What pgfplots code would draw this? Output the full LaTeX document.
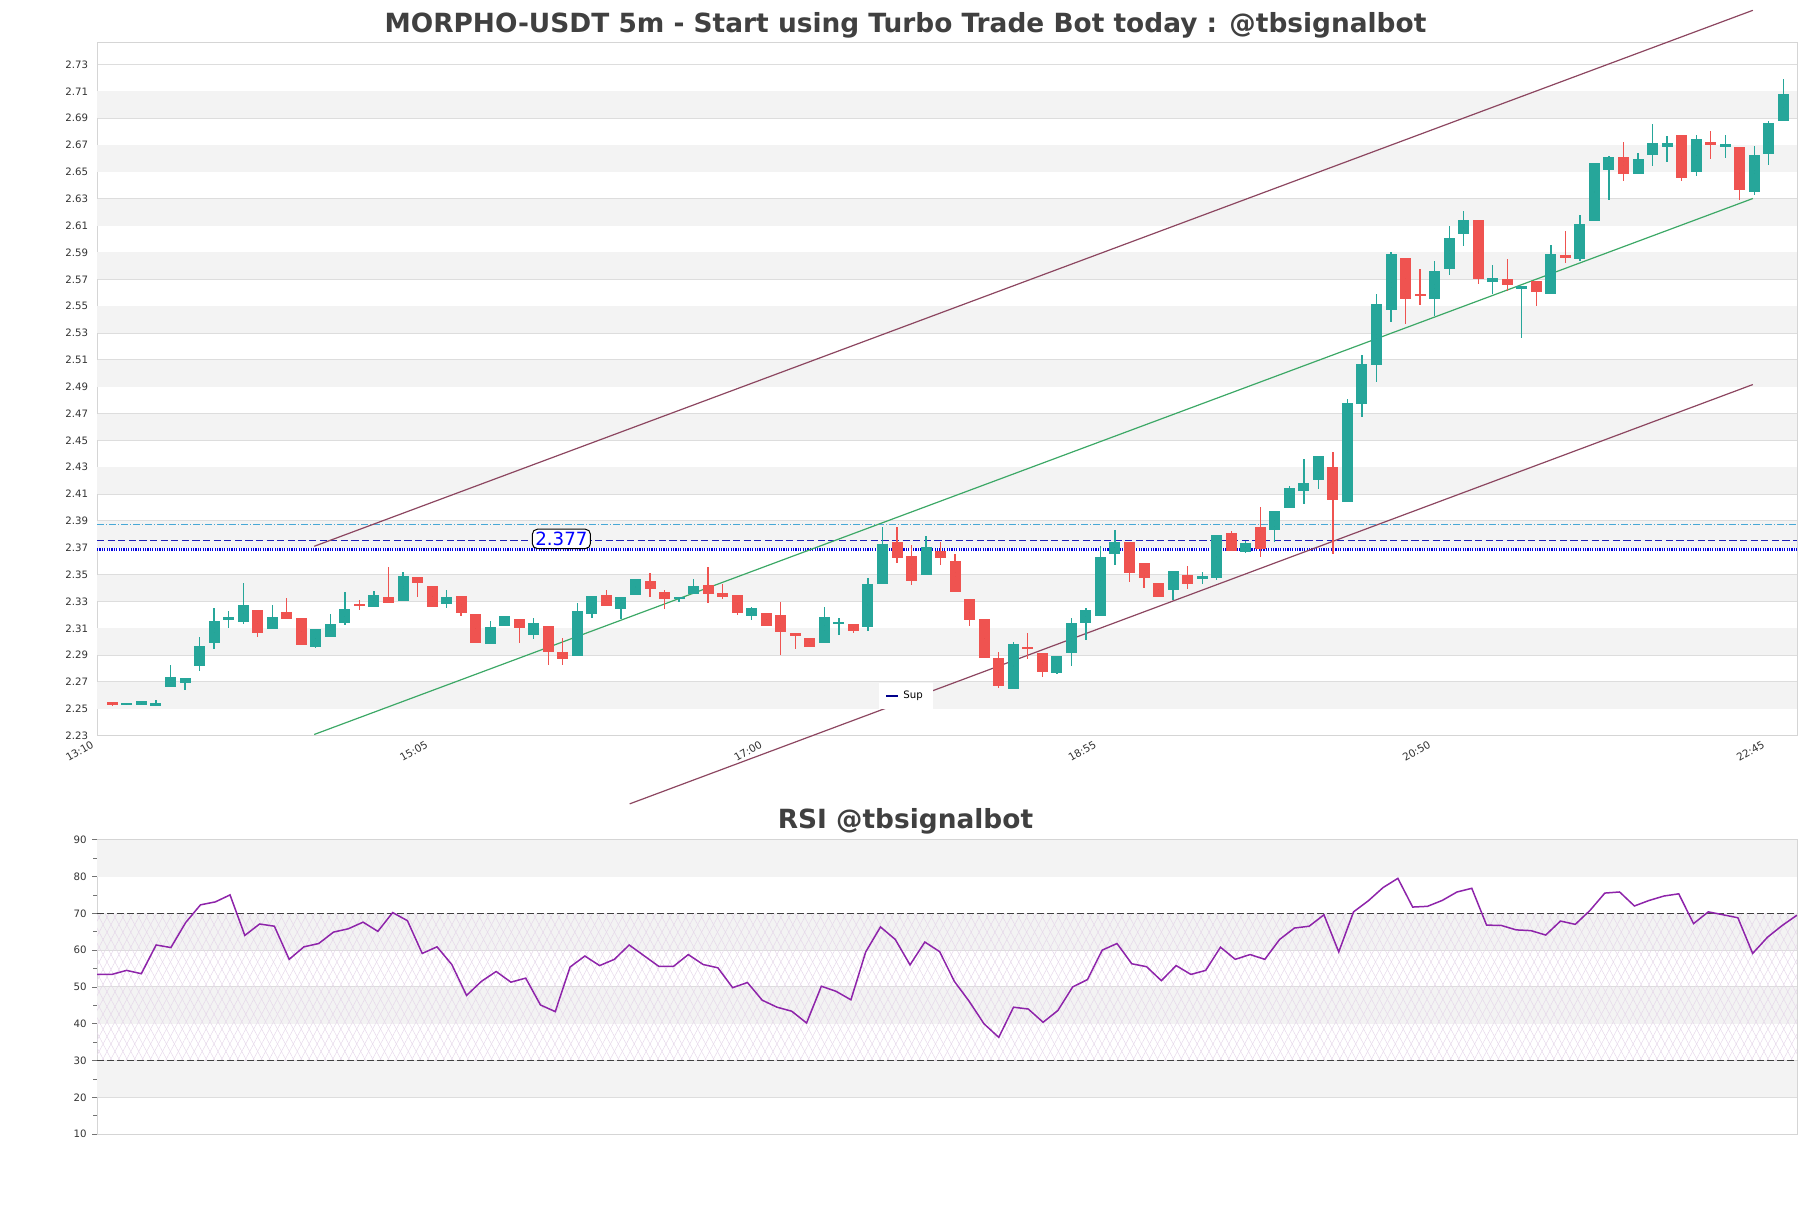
\documentclass[border=0pt]{standalone}
\usepackage{fontspec}
\setmainfont{DejaVu Sans}
\usepackage{pgfplots}
\usepackage{pgfplotstable}
\pgfplotsset{compat=1.18}
\usetikzlibrary{patterns.meta}
\definecolor{upc}{HTML}{26A69A}
\definecolor{dnc}{HTML}{EF5350}
\definecolor{bandc}{HTML}{F3F3F3}
\definecolor{gridc}{HTML}{DDDDDD}
\definecolor{framec}{HTML}{D5D5D5}
\definecolor{chanc}{HTML}{8C4660}
\definecolor{midc}{HTML}{3CA866}
\definecolor{cyanc}{HTML}{48A8D6}
\definecolor{dashc}{HTML}{1E1EB8}
\definecolor{supc}{HTML}{0000E0}
\definecolor{legc}{HTML}{00008B}
\definecolor{rsic}{HTML}{8E24AA}
\definecolor{hatchc}{HTML}{E6D8EA}
\definecolor{titc}{HTML}{404040}
\definecolor{tickc}{HTML}{333333}

\pgfplotstableread{
i o h l c
0 2.2550 2.2550 2.2518 2.2530
1 2.2535 2.2537 2.2533 2.2536
2 2.2525 2.2558 2.2525 2.2558
3 2.2518 2.2568 2.2518 2.2545
4 2.2660 2.2830 2.2660 2.2740
5 2.2695 2.2733 2.2638 2.2733
6 2.2818 2.3033 2.2783 2.2965
7 2.2990 2.3250 2.2945 2.3153
8 2.3163 2.3228 2.3100 2.3185
9 2.3148 2.3438 2.3133 2.3273
10 2.3235 2.3235 2.3033 2.3065
11 2.3095 2.3273 2.3095 2.3183
12 2.3220 2.3325 2.3170 2.3170
13 2.3175 2.3175 2.2975 2.2975
14 2.2958 2.3093 2.2955 2.3093
15 2.3035 2.3205 2.3035 2.3130
16 2.3140 2.3370 2.3125 2.3243
17 2.3280 2.3310 2.3238 2.3265
18 2.3260 2.3378 2.3260 2.3348
19 2.3333 2.3555 2.3290 2.3290
20 2.3305 2.3520 2.3305 2.3490
21 2.3483 2.3483 2.3335 2.3440
22 2.3415 2.3415 2.3260 2.3260
23 2.3278 2.3383 2.3253 2.3333
24 2.3338 2.3338 2.3193 2.3215
25 2.3205 2.3205 2.2990 2.2990
26 2.2980 2.3158 2.2980 2.3108
27 2.3115 2.3190 2.3115 2.3190
28 2.3168 2.3168 2.2990 2.3103
29 2.3050 2.3180 2.3018 2.3138
30 2.3115 2.3115 2.2825 2.2920
31 2.2920 2.3025 2.2830 2.2870
32 2.2893 2.3288 2.2893 2.3228
33 2.3208 2.3338 2.3175 2.3338
34 2.3345 2.3385 2.3268 2.3268
35 2.3244 2.3331 2.3170 2.3331
36 2.3348 2.3468 2.3348 2.3465
37 2.3450 2.3510 2.3331 2.3393
38 2.3373 2.3386 2.3244 2.3319
39 2.3322 2.3331 2.3299 2.3325
40 2.3356 2.3465 2.3356 2.3418
41 2.3425 2.3560 2.3289 2.3356
42 2.3366 2.3433 2.3319 2.3331
43 2.3351 2.3351 2.3199 2.3214
44 2.3192 2.3261 2.3162 2.3249
45 2.3212 2.3217 2.3117 2.3117
46 2.3202 2.3299 2.2901 2.3073
47 2.3068 2.3068 2.2946 2.3043
48 2.3025 2.3025 2.2961 2.2961
49 2.2988 2.3257 2.2988 2.3182
50 2.3132 2.3175 2.3050 2.3145
51 2.3135 2.3135 2.3065 2.3080
52 2.3107 2.3473 2.3080 2.3428
53 2.3428 2.3853 2.3428 2.3726
54 2.3743 2.3853 2.3584 2.3622
55 2.3637 2.3721 2.3423 2.3450
56 2.3495 2.3788 2.3495 2.3704
57 2.3674 2.3746 2.3572 2.3622
58 2.3599 2.3654 2.3373 2.3373
59 2.3319 2.3319 2.3117 2.3160
60 2.3167 2.3167 2.2876 2.2876
61 2.2876 2.2921 2.2653 2.2673
62 2.2645 2.3001 2.2645 2.2981
63 2.2963 2.3063 2.2869 2.2946
64 2.2914 2.2914 2.2740 2.2777
65 2.2767 2.2891 2.2757 2.2891
66 2.2916 2.3175 2.2822 2.3137
67 2.3140 2.3249 2.3013 2.3234
68 2.3192 2.3714 2.3192 2.3634
69 2.3654 2.3835 2.3572 2.3743
70 2.3740 2.3740 2.3446 2.3510
71 2.3587 2.3587 2.3401 2.3475
72 2.3438 2.3438 2.3334 2.3334
73 2.3383 2.3530 2.3309 2.3530
74 2.3498 2.3565 2.3391 2.3428
75 2.3465 2.3520 2.3428 2.3488
76 2.3478 2.3795 2.3463 2.3795
77 2.3813 2.3825 2.3676 2.3676
78 2.3669 2.3748 2.3661 2.3736
79 2.3855 2.4004 2.3632 2.3694
80 2.3830 2.3974 2.3743 2.3974
81 2.3996 2.4160 2.3996 2.4145
82 2.4120 2.4364 2.4029 2.4182
83 2.4202 2.4383 2.4138 2.4383
84 2.4304 2.4413 2.3656 2.4053
85 2.4041 2.4805 2.4041 2.4780
86 2.4771 2.5138 2.4674 2.5068
87 2.5061 2.5587 2.4934 2.5515
88 2.5468 2.5902 2.5381 2.5890
89 2.5857 2.5857 2.5364 2.5550
90 2.5587 2.5778 2.5510 2.5584
91 2.5557 2.5840 2.5430 2.5763
92 2.5778 2.6096 2.5733 2.6006
93 2.6034 2.6207 2.5952 2.6140
94 2.6140 2.6140 2.5666 2.5703
95 2.5679 2.5810 2.5587 2.5711
96 2.5699 2.5849 2.5612 2.5656
97 2.5629 2.5647 2.5265 2.5647
98 2.5691 2.5691 2.5503 2.5604
99 2.5590 2.5958 2.5590 2.5892
100 2.5884 2.6057 2.5822 2.5857
101 2.5854 2.6181 2.5835 2.6114
102 2.6137 2.6567 2.6132 2.6567
103 2.6518 2.6617 2.6292 2.6614
104 2.6612 2.6721 2.6429 2.6481
105 2.6488 2.6642 2.6488 2.6600
106 2.6629 2.6857 2.6548 2.6716
107 2.6683 2.6765 2.6572 2.6718
108 2.6773 2.6773 2.6434 2.6456
109 2.6496 2.6775 2.6473 2.6746
110 2.6723 2.6805 2.6597 2.6703
111 2.6686 2.6777 2.6604 2.6706
112 2.6686 2.6686 2.6293 2.6362
113 2.6354 2.6691 2.6325 2.6627
114 2.6637 2.6879 2.6555 2.6864
115 2.6882 2.7191 2.6882 2.7080
}\candles

\pgfplotstableread{
i r
0 53.4
1 53.4
2 54.5
3 53.6
4 61.4
5 60.7
6 67.5
7 72.3
8 73.1
9 75.0
10 64.0
11 67.1
12 66.5
13 57.5
14 60.9
15 61.8
16 64.9
17 65.8
18 67.6
19 65.1
20 70.2
21 68.0
22 59.1
23 60.9
24 56.1
25 47.7
26 51.5
27 54.2
28 51.3
29 52.4
30 45.1
31 43.3
32 55.4
33 58.4
34 55.8
35 57.5
36 61.4
37 58.5
38 55.6
39 55.6
40 58.8
41 56.1
42 55.2
43 49.8
44 51.2
45 46.4
46 44.5
47 43.4
48 40.2
49 50.2
50 48.8
51 46.5
52 59.5
53 66.3
54 62.9
55 56.0
56 62.2
57 59.6
58 51.5
59 46.1
60 40.0
61 36.3
62 44.5
63 44.0
64 40.4
65 43.6
66 50.0
67 52.0
68 60.0
69 61.8
70 56.3
71 55.5
72 51.7
73 55.8
74 53.4
75 54.5
76 60.8
77 57.5
78 58.8
79 57.5
80 62.9
81 66.0
82 66.5
83 69.6
84 59.5
85 70.4
86 73.4
87 77.0
88 79.5
89 71.7
90 71.9
91 73.5
92 75.8
93 76.8
94 66.8
95 66.7
96 65.5
97 65.3
98 64.1
99 67.9
100 67.0
101 70.8
102 75.5
103 75.8
104 72.0
105 73.5
106 74.7
107 75.3
108 67.2
109 70.4
110 69.6
111 68.8
112 59.1
113 63.5
114 66.7
115 69.5
}\rsi

\pgfplotsset{
  candle/.style 2 args={forget plot, only marks, mark=*, mark size=0pt,
    mark options={draw=none, fill=none},
    error bars/.cd, y dir=both, y explicit, error mark=none,
    error bar style={draw=#1, line width=#2}},
}

\begin{document}
\begin{tikzpicture}
% ---------------- main price axis ----------------
\begin{axis}[
  at={(48.5pt,236.15pt)}, anchor=south west,
  scale only axis, width=850pt, height=346.5pt,
  xmin=-1.06, xmax=115.94, ymin=2.23, ymax=2.7463,
  clip=false, set layers,
  axis line style={draw=framec, line width=0.5pt},
  ymajorgrids, major grid style={draw=gridc, line width=0.5pt},
  major tick length=0pt,
  ytick={2.23,2.25,2.27,2.29,2.31,2.33,2.35,2.37,2.39,2.41,2.43,2.45,2.47,2.49,2.51,2.53,2.55,2.57,2.59,2.61,2.63,2.65,2.67,2.69,2.71,2.73},
  yticklabel style={font=\fontsize{5.1}{6}\selectfont, text=tickc, xshift=-0.9pt,
    /pgf/number format/.cd, fixed, fixed zerofill, precision=2, assume math mode=true},
  xtick={0,23,46,69,92,115},
  xticklabels={13:10,15:05,17:00,18:55,20:50,22:45},
  xticklabel style={font=\fontsize{5.2}{6}\selectfont, text=tickc, xshift=-9.6pt, yshift=2.6pt, rotate=30, anchor=north east},
  legend style={at={(0.476,0.057)}, anchor=center, draw=none, fill=white,
    font=\fontsize{5.1}{6}\selectfont, inner xsep=3pt, inner ysep=2pt},
  legend image code/.code={\draw[#1] (0pt,0pt) -- (6pt,0pt);},
]
\fill[bandc, on layer=axis background] (axis cs:-1.06,2.25) rectangle (axis cs:115.94,2.27);
\fill[bandc, on layer=axis background] (axis cs:-1.06,2.29) rectangle (axis cs:115.94,2.31);
\fill[bandc, on layer=axis background] (axis cs:-1.06,2.33) rectangle (axis cs:115.94,2.35);
\fill[bandc, on layer=axis background] (axis cs:-1.06,2.37) rectangle (axis cs:115.94,2.39);
\fill[bandc, on layer=axis background] (axis cs:-1.06,2.41) rectangle (axis cs:115.94,2.43);
\fill[bandc, on layer=axis background] (axis cs:-1.06,2.45) rectangle (axis cs:115.94,2.47);
\fill[bandc, on layer=axis background] (axis cs:-1.06,2.49) rectangle (axis cs:115.94,2.51);
\fill[bandc, on layer=axis background] (axis cs:-1.06,2.53) rectangle (axis cs:115.94,2.55);
\fill[bandc, on layer=axis background] (axis cs:-1.06,2.57) rectangle (axis cs:115.94,2.59);
\fill[bandc, on layer=axis background] (axis cs:-1.06,2.61) rectangle (axis cs:115.94,2.63);
\fill[bandc, on layer=axis background] (axis cs:-1.06,2.65) rectangle (axis cs:115.94,2.67);
\fill[bandc, on layer=axis background] (axis cs:-1.06,2.69) rectangle (axis cs:115.94,2.71);

% horizontal levels
\addplot[forget plot, cyanc, line width=0.55pt, dash pattern=on 3.5pt off 1pt on 0.5pt off 1pt] coordinates {(-1.06,2.387) (115.94,2.387)};
\addplot[forget plot, dashc, line width=0.65pt, dash pattern=on 3.6pt off 1.7pt] coordinates {(-1.06,2.3752) (115.94,2.3752)};
\addplot[forget plot, supc, line width=1.3pt, dash pattern=on 0.6pt off 0.6pt] coordinates {(-1.06,2.3688) (115.94,2.3688)};

% channel
\addplot[forget plot, chanc, line width=0.6pt] coordinates {(13.89,2.3711) (112.9,2.7704)};
\addplot[forget plot, midc, line width=0.6pt] coordinates {(13.89,2.2309) (112.9,2.6302)};
\addplot[forget plot, chanc, line width=0.6pt] coordinates {(35.6,2.1792) (112.9,2.4916)};

% wicks
\addplot[restrict expr to domain={\thisrow{c}-\thisrow{o}}{0:1}, candle={upc}{0.65pt}]
  table[x=i, y expr={(\thisrow{h}+\thisrow{l})/2}, y error expr={(\thisrow{h}-\thisrow{l})/2}] {\candles};
\addplot[restrict expr to domain={\thisrow{c}-\thisrow{o}}{-1:-0.00001}, candle={dnc}{0.65pt}]
  table[x=i, y expr={(\thisrow{h}+\thisrow{l})/2}, y error expr={(\thisrow{h}-\thisrow{l})/2}] {\candles};
% bodies
\addplot[restrict expr to domain={\thisrow{c}-\thisrow{o}}{0:1}, candle={upc}{5.5pt}]
  table[x=i, y expr={(\thisrow{o}+\thisrow{c})/2}, y error expr={max(abs(\thisrow{c}-\thisrow{o})/2,0.0007)}] {\candles};
\addplot[restrict expr to domain={\thisrow{c}-\thisrow{o}}{-1:-0.00001}, candle={dnc}{5.5pt}]
  table[x=i, y expr={(\thisrow{o}+\thisrow{c})/2}, y error expr={max(abs(\thisrow{c}-\thisrow{o})/2,0.0007)}] {\candles};

\node[draw=black, fill=white, rounded corners=2.5pt, line width=0.5pt, text=blue,
  font=\fontsize{9.1}{10}\selectfont, inner xsep=1.5pt, inner ysep=1.4pt] at (axis cs:30.9,2.3766) {2.377};

\addlegendimage{legc, line width=1pt}
\addlegendentry{Sup}
\end{axis}

% ---------------- RSI axis ----------------
\begin{axis}[
  at={(48.5pt,36.9pt)}, anchor=south west,
  scale only axis, width=850pt, height=147.25pt,
  xmin=0, xmax=115, ymin=10, ymax=90,
  set layers,
  axis line style={draw=framec, line width=0.5pt},
  ymajorgrids, major grid style={draw=gridc, line width=0.5pt},
  xtick=\empty,
  ytick={10,20,30,40,50,60,70,80,90},
  minor ytick={15,25,35,45,55,65,75,85},
  ytick pos=left, tick align=outside,
  major tick length=2.5pt, minor tick length=2pt,
  tick style={draw=black!55, line width=0.4pt},
  yticklabel style={font=\fontsize{5.1}{6}\selectfont, text=tickc, xshift=0.8pt,
    /pgf/number format/assume math mode=true},
]
\fill[bandc, on layer=axis background] (axis cs:0,80) rectangle (axis cs:115,90);
\fill[bandc, on layer=axis background] (axis cs:0,60) rectangle (axis cs:115,70);
\fill[bandc, on layer=axis background] (axis cs:0,40) rectangle (axis cs:115,50);
\fill[bandc, on layer=axis background] (axis cs:0,20) rectangle (axis cs:115,30);
\fill[on layer=axis background, pattern={Lines[angle=62,distance=3.5pt,line width=0.25pt]}, pattern color=hatchc] (axis cs:0,30) rectangle (axis cs:115,70);
\fill[on layer=axis background, pattern={Lines[angle=-62,distance=3.5pt,line width=0.25pt]}, pattern color=hatchc] (axis cs:0,30) rectangle (axis cs:115,70);

\addplot[forget plot, black!75, line width=0.6pt, dash pattern=on 3.3pt off 1.7pt] coordinates {(0,70) (115,70)};
\addplot[forget plot, black!75, line width=0.6pt, dash pattern=on 3.3pt off 1.7pt] coordinates {(0,30) (115,30)};
\addplot[forget plot, rsic, line width=0.75pt, mark=none] table[x=i, y=r] {\rsi};
\end{axis}

\node[text=titc, font=\fontsize{13.2}{15}\selectfont\bfseries] at (452.75pt,591.3pt) {MORPHO-USDT 5m - Start using Turbo Trade Bot today : @tbsignalbot};
\node[text=titc, font=\fontsize{13.2}{15}\selectfont\bfseries] at (452.75pt,193.3pt) {RSI @tbsignalbot};

\pgfresetboundingbox
\useasboundingbox (0pt,0pt) rectangle (905.5pt,604pt);
\end{tikzpicture}
\end{document}
